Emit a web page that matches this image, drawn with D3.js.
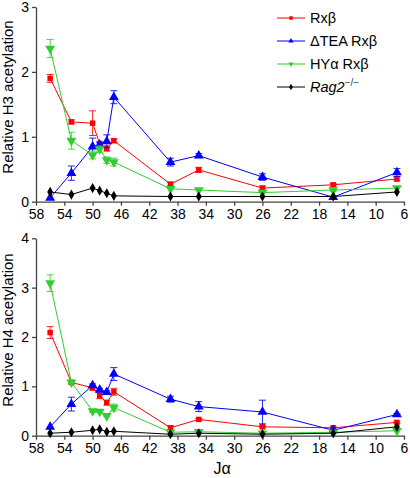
<!DOCTYPE html>
<html><head><meta charset="utf-8">
<script src="https://cdn.jsdelivr.net/npm/d3@7"></script>
<style>body{margin:0;background:#fff}svg{display:block;font-family:Arial,"Liberation Sans",sans-serif}</style>
</head><body><svg id="c" width="410" height="478"></svg>
<script>
const jalpha = [56, 53, 50, 49, 48, 47, 39, 35, 26, 16, 7];
const xTicks = [58, 54, 50, 46, 42, 38, 34, 30, 26, 22, 18, 14, 10, 6];
const h3Ticks = [0, 1, 2, 3];
const h4Ticks = [0, 1, 2, 3, 4];
const seriesNames = ["Rxβ", "ΔTEA Rxβ", "HYα Rxβ", "Rag2"];

const h3Rx     = [1.90, 1.23, 1.21, 0.89, 0.82, 0.94, 0.27, 0.49, 0.21, 0.26, 0.35];
const h3RxErr  = [0.06, 0.03, 0.19, 0.04, 0.04, 0.03, 0.03, 0.04, 0.03, 0.02, 0.03];
const h3Tea    = [0.06, 0.44, 0.85, 0.88, 0.93, 1.61, 0.61, 0.71, 0.38, 0.07, 0.45];
const h3TeaErr = [0.01, 0.11, 0.13, 0.03, 0.10, 0.10, 0.06, 0.03, 0.05, 0.01, 0.06];
const h3Hy     = [2.36, 0.94, 0.72, 0.81, 0.64, 0.61, 0.20, 0.18, 0.14, 0.18, 0.21];
const h3HyErr  = [0.14, 0.13, 0.06, 0.05, 0.05, 0.06, 0.01, 0.01, 0.01, 0.02, 0.01];
const h3Rag    = [0.15, 0.11, 0.21, 0.17, 0.13, 0.09, 0.08, 0.08, 0.08, 0.08, 0.15];

const h4Rx     = [2.09, 1.08, 0.97, 0.81, 0.67, 0.89, 0.16, 0.33, 0.18, 0.16, 0.27];
const h4RxErr  = [0.12, 0.03, 0.05, 0.06, 0.05, 0.07, 0.04, 0.02, 0.02, 0.02, 0.02];
const h4Tea    = [0.18, 0.64, 1.02, 0.93, 0.88, 1.25, 0.74, 0.59, 0.48, 0.11, 0.43];
const h4TeaErr = [0.01, 0.14, 0.03, 0.03, 0.03, 0.13, 0.06, 0.10, 0.24, 0.02, 0.02];
const h4Hy     = [3.09, 1.08, 0.50, 0.49, 0.40, 0.57, 0.07, 0.08, 0.05, 0.07, 0.10];
const h4HyErr  = [0.17, 0.02, 0.03, 0.02, 0.02, 0.07, 0.01, 0.01, 0.01, 0.01, 0.01];
const h4Rag    = [0.05, 0.07, 0.11, 0.13, 0.08, 0.09, 0.03, 0.05, 0.03, 0.05, 0.18];

const colors = ["#ff0000", "#0000ff", "#33cc33", "#000000"];
const symbols = [d3.symbolSquare, d3.symbolTriangle, d3.symbolTriangle, d3.symbolDiamond];
const symSizes = [30, 42, 42, 30];
const symRot = [0, 0, 180, 0];

const svg = d3.select("#c");
const x = d3.scaleLinear().domain([58, 6]).range([36, 404]);

function panel(yDomMax, yTop, yBottom, ticks, series, title, titleY) {
  const y = d3.scaleLinear().domain([0, yDomMax]).range([yBottom, yTop]);
  const g = svg.append("g");
  const xa = g.append("g").attr("transform", `translate(0,${yBottom})`)
    .call(d3.axisBottom(x).tickValues(xTicks).tickSize(4).tickSizeOuter(0).tickPadding(3));
  const ya = g.append("g").attr("transform", `translate(36,0)`)
    .call(d3.axisLeft(y).tickValues(ticks).tickFormat(d3.format("d")).tickSize(4).tickSizeOuter(0).tickPadding(3));
  [xa, ya].forEach(a => {
    a.selectAll("path,line").attr("stroke", "#444").attr("stroke-width", 1.3);
    a.selectAll("text").attr("font-size", 14).attr("fill", "#000")
      .attr("font-family", "Arial,'Liberation Sans',sans-serif");
  });
  g.append("text").attr("transform", `translate(13,${titleY}) rotate(-90)`)
    .attr("text-anchor", "middle").attr("font-size", 15).text(title);

  const line = d3.line().x((d, i) => x(jalpha[i])).y(d => y(d));
  series.forEach((s, k) => {
    const sg = g.append("g");
    sg.append("path").datum(s.v).attr("d", line).attr("fill", "none")
      .attr("stroke", colors[k]).attr("stroke-width", 1);
    if (s.e) {
      s.v.forEach((v, i) => {
        const e = s.e[i];
        if (e < 0.02) return;
        const cx = x(jalpha[i]), y1 = y(v + e), y2 = y(v - e);
        sg.append("path").attr("d", `M${cx},${y1}V${y2}M${cx-3.5},${y1}H${cx+3.5}M${cx-3.5},${y2}H${cx+3.5}`)
          .attr("stroke", colors[k]).attr("stroke-width", 1).attr("fill", "none").attr("opacity", 0.85);
      });
    }
    sg.selectAll(".m").data(s.v).join("path")
      .attr("d", d3.symbol().type(symbols[k]).size(symSizes[k]))
      .attr("transform", (d, i) => `translate(${x(jalpha[i])},${y(d)}) rotate(${symRot[k]})`)
      .attr("fill", colors[k]);
  });
}

panel(3, 7, 201.7, h3Ticks,
  [{v: h3Rx, e: h3RxErr}, {v: h3Tea, e: h3TeaErr}, {v: h3Hy, e: h3HyErr}, {v: h3Rag}],
  "Relative H3 acetylation", 97);
panel(4, 238.3, 435.7, h4Ticks,
  [{v: h4Rx, e: h4RxErr}, {v: h4Tea, e: h4TeaErr}, {v: h4Hy, e: h4HyErr}, {v: h4Rag}],
  "Relative H4 acetylation", 330);

svg.append("text").attr("x", 222).attr("y", 474).attr("text-anchor", "middle")
  .attr("font-size", 16).text("Jα");

// legend
const legY = [18, 41, 64, 87];
seriesNames.forEach((n, k) => {
  const lg = svg.append("g").attr("transform", `translate(0,${legY[k]})`);
  lg.append("line").attr("x1", 277).attr("x2", 305).attr("y1", 0).attr("y2", 0)
    .attr("stroke", colors[k]).attr("stroke-width", 1);
  lg.append("path").attr("d", d3.symbol().type(symbols[k]).size(12))
    .attr("transform", `translate(291,0) rotate(${symRot[k]})`).attr("fill", colors[k]);
  const t = lg.append("text").attr("x", 310).attr("y", 5).attr("font-size", 14.5);
  if (k === 3) {
    t.append("tspan").attr("font-style", "italic").text("Rag2");
    t.append("tspan").attr("dy", -6).attr("font-size", 10).attr("fill", "#444").text("−/−");
  } else {
    t.text(n);
  }
});
</script></body></html>
